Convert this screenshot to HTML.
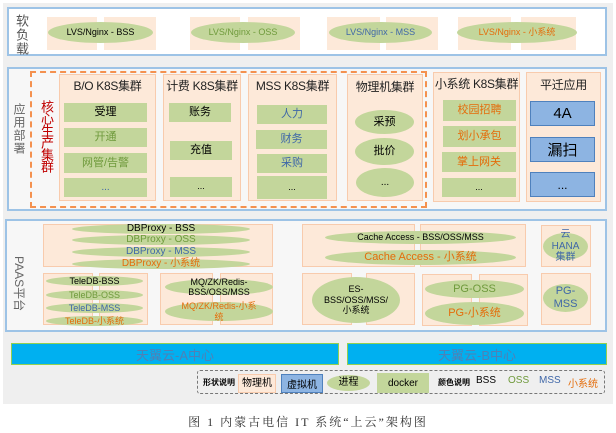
<!DOCTYPE html>
<html><head><meta charset="utf-8"><style>
*{margin:0;padding:0;box-sizing:border-box}
body{width:616px;height:433px;background:#fff;position:relative;overflow:hidden;font-family:"Liberation Sans","Noto Sans CJK SC",sans-serif}
div{position:absolute}
.pk{background:#fde9d9;border:1px solid #f8cbad}
.pkn{background:#fde9d9}
.g{background:#c3d69b;display:flex;align-items:center;justify-content:center;text-align:center;line-height:1.1}
.e{background:#c3d69b;border-radius:50%;display:flex;align-items:center;justify-content:center;text-align:center;line-height:1.15}
.b{background:#8db4e2;border:1px solid #4f81bd;display:flex;align-items:center;justify-content:center}
.k{color:#000}.o{color:#6f9a3c}.m{color:#3f67a8}.x{color:#e46c0a}
.h{font-size:12px;text-align:center;color:#222;white-space:nowrap;letter-spacing:-0.3px}
.v{writing-mode:vertical-rl;text-orientation:upright;letter-spacing:1px}
</style></head><body>
<div style="left:3px;top:3px;width:610px;height:401px;background:#efefef"></div>

<!-- top -->
<div style="left:7px;top:7px;width:600px;height:49px;background:#fff;border:2px solid #9dc3e6"></div>
<div class="v" style="left:12px;top:14px;font-size:13px;color:#555">软负载</div>
<div class="pkn" style="left:47px;top:17px;width:50px;height:33px"></div><div class="pkn" style="left:104px;top:17px;width:52px;height:33px"></div>
<div class="e k" style="left:48px;top:22px;width:105px;height:21px;font-size:9px">LVS/Nginx - BSS</div>
<div class="pkn" style="left:190px;top:17px;width:50px;height:33px"></div><div class="pkn" style="left:248px;top:17px;width:52px;height:33px"></div>
<div class="e o" style="left:191px;top:22px;width:104px;height:21px;font-size:9px">LVS/Nginx - OSS</div>
<div class="pkn" style="left:327px;top:17px;width:53px;height:33px"></div><div class="pkn" style="left:386px;top:17px;width:52px;height:33px"></div>
<div class="e m" style="left:329px;top:22px;width:103px;height:21px;font-size:9px">LVS/Nginx - MSS</div>
<div class="pkn" style="left:458px;top:17px;width:53px;height:33px"></div><div class="pkn" style="left:521px;top:17px;width:55px;height:33px"></div>
<div class="e x" style="left:457px;top:22px;width:120px;height:21px;font-size:9px">LVS/Nginx - 小系统</div>

<!-- app deploy -->
<div style="left:7px;top:67px;width:600px;height:144px;background:#f7f7f7;border:2px solid #9dc3e6"></div>
<div class="v" style="left:11px;top:103px;font-size:12px;color:#666">应用部署</div>
<div style="left:30px;top:71px;width:397px;height:137px;border:2px dashed #f4914f"></div>
<div class="v" style="left:37px;top:100px;font-size:13px;color:#c00000;letter-spacing:-1px">核心生产集群</div>

<div class="pk" style="left:59px;top:74px;width:97px;height:127px"></div>
<div class="h" style="left:59px;top:77px;width:97px">B/O K8S集群</div>
<div class="g k" style="left:64px;top:103px;width:83px;height:19px;font-size:11px">受理</div>
<div class="g o" style="left:64px;top:128px;width:83px;height:19px;font-size:11px">开通</div>
<div class="g o" style="left:64px;top:153px;width:83px;height:20px;font-size:11px">网管/告警</div>
<div class="g m" style="left:64px;top:178px;width:83px;height:19px;font-size:10px">...</div>

<div class="pk" style="left:163px;top:74px;width:78px;height:127px"></div>
<div class="h" style="left:163px;top:77px;width:78px">计费 K8S集群</div>
<div class="g k" style="left:169px;top:103px;width:62px;height:19px;font-size:11px">账务</div>
<div class="g k" style="left:170px;top:141px;width:62px;height:19px;font-size:11px">充值</div>
<div class="g k" style="left:170px;top:177px;width:62px;height:20px;font-size:9px">...</div>

<div class="pk" style="left:248px;top:74px;width:89px;height:127px"></div>
<div class="h" style="left:248px;top:77px;width:89px">MSS K8S集群</div>
<div class="g m" style="left:257px;top:105px;width:70px;height:19px;font-size:11px">人力</div>
<div class="g m" style="left:256px;top:130px;width:71px;height:19px;font-size:11px">财务</div>
<div class="g m" style="left:257px;top:154px;width:70px;height:19px;font-size:11px">采购</div>
<div class="g k" style="left:257px;top:176px;width:70px;height:23px;font-size:9px">...</div>

<div class="pk" style="left:347px;top:74px;width:76px;height:127px"></div>
<div class="h" style="left:347px;top:78px;width:76px">物理机集群</div>
<div class="e k" style="left:355px;top:110px;width:59px;height:24px;font-size:11px">采预</div>
<div class="e k" style="left:355px;top:138px;width:59px;height:27px;font-size:11px">批价</div>
<div class="e k" style="left:356px;top:168px;width:58px;height:29px;font-size:10px">...</div>

<div class="pk" style="left:433px;top:72px;width:87px;height:130px"></div>
<div class="h" style="left:433px;top:75px;width:87px">小系统 K8S集群</div>
<div class="g x" style="left:443px;top:100px;width:73px;height:21px;font-size:11px">校园招聘</div>
<div class="g x" style="left:443px;top:126px;width:73px;height:21px;font-size:11px">划小承包</div>
<div class="g x" style="left:442px;top:152px;width:74px;height:20px;font-size:11px">掌上网关</div>
<div class="g k" style="left:442px;top:178px;width:74px;height:19px;font-size:9px">...</div>

<div class="pk" style="left:526px;top:72px;width:75px;height:130px"></div>
<div class="h" style="left:526px;top:76px;width:75px">平迁应用</div>
<div class="b" style="left:530px;top:101px;width:65px;height:25px;font-size:15px">4A</div>
<div class="b" style="left:530px;top:137px;width:65px;height:25px;font-size:15px">漏扫</div>
<div class="b" style="left:530px;top:172px;width:65px;height:25px;font-size:12px">...</div>

<!-- PAAS -->
<div style="left:5px;top:219px;width:602px;height:113px;background:#f7f7f7;border:2px solid #9dc3e6"></div>
<div style="left:11px;top:256px;font-size:12px;color:#666;writing-mode:vertical-rl;text-orientation:sideways">PAAS平台</div>

<div class="pk" style="left:43px;top:224px;width:230px;height:43px"></div>
<div class="e k" style="left:72px;top:224px;width:178px;height:10px;font-size:10px">DBProxy - BSS</div>
<div class="e o" style="left:72px;top:235px;width:178px;height:10px;font-size:10px">DBProxy - OSS</div>
<div class="e m" style="left:72px;top:247px;width:178px;height:10px;font-size:10px">DBProxy - MSS</div>
<div class="e x" style="left:72px;top:259px;width:178px;height:10px;font-size:10px">DBProxy - 小系统</div>

<div class="pk" style="left:302px;top:224px;width:113px;height:43px"></div><div class="pk" style="left:420px;top:224px;width:106px;height:43px"></div>
<div class="e k" style="left:325px;top:231px;width:191px;height:13px;font-size:9px">Cache Access - BSS/OSS/MSS</div>
<div class="e x" style="left:325px;top:250px;width:191px;height:15px;font-size:11px">Cache Access - 小系统</div>

<div class="pk" style="left:541px;top:225px;width:50px;height:42px"></div>
<div class="e m" style="left:543px;top:233px;width:45px;height:27px;font-size:10px">云<br>HANA<br>集群</div>

<div class="pk" style="left:43px;top:273px;width:50px;height:52px"></div><div class="pk" style="left:99px;top:273px;width:49px;height:52px"></div>
<div class="e k" style="left:46px;top:276px;width:97px;height:10px;font-size:9px">TeleDB-BSS</div>
<div class="e o" style="left:46px;top:290px;width:97px;height:10px;font-size:9px">TeleDB-OSS</div>
<div class="e m" style="left:46px;top:303px;width:97px;height:10px;font-size:9px">TeleDB-MSS</div>
<div class="e x" style="left:46px;top:316px;width:97px;height:10px;font-size:9px">TeleDB-小系统</div>

<div class="pk" style="left:160px;top:273px;width:53px;height:52px"></div><div class="pk" style="left:220px;top:273px;width:53px;height:52px"></div>
<div class="e k" style="left:165px;top:279px;width:108px;height:16px;font-size:9px">MQ/ZK/Redis-<br>BSS/OSS/MSS</div>
<div class="e x" style="left:165px;top:302px;width:108px;height:19px;font-size:9px">MQ/ZK/Redis-小系<br>统</div>

<div class="pk" style="left:302px;top:273px;width:50px;height:52px"></div><div class="pk" style="left:366px;top:273px;width:49px;height:52px"></div>
<div class="e k" style="left:312px;top:277px;width:88px;height:46px;font-size:9px">ES-<br>BSS/OSS/MSS/<br>小系统</div>

<div class="pk" style="left:422px;top:274px;width:50px;height:52px"></div><div class="pk" style="left:479px;top:274px;width:49px;height:52px"></div>
<div class="e o" style="left:425px;top:280px;width:99px;height:18px;font-size:11px">PG-OSS</div>
<div class="e x" style="left:425px;top:302px;width:99px;height:23px;font-size:11px">PG-小系统</div>

<div class="pk" style="left:541px;top:273px;width:50px;height:52px"></div>
<div class="e m" style="left:543px;top:284px;width:45px;height:28px;font-size:11px">PG-<br>MSS</div>

<!-- clouds -->
<div style="left:11px;top:343px;width:328px;height:22px;background:#00b0f0;border:1px solid #92d050;color:#4e81b6;font-size:13px;display:flex;align-items:center;justify-content:center">天翼云-A中心</div>
<div style="left:347px;top:343px;width:260px;height:22px;background:#00b0f0;border:1px solid #92d050;color:#4e81b6;font-size:13px;display:flex;align-items:center;justify-content:center">天翼云-B中心</div>

<!-- legend -->
<div style="left:197px;top:370px;width:408px;height:24px;border:1px dashed #777;border-radius:3px"></div>
<div style="left:203px;top:377px;font-size:8px;font-weight:bold">形状说明</div>
<div class="pk" style="left:238px;top:374px;width:38px;height:19px;font-size:10px;text-align:center;line-height:17px">物理机</div>
<div class="b" style="left:281px;top:374px;width:42px;height:19px;font-size:10px">虚拟机</div>
<div class="e k" style="left:327px;top:375px;width:43px;height:16px;font-size:10px">进程</div>
<div class="g k" style="left:377px;top:373px;width:52px;height:20px;font-size:10px">docker</div>
<div style="left:438px;top:377px;font-size:8px;font-weight:bold">颜色说明</div>
<div class="k" style="left:476px;top:375px;font-size:10px">BSS</div>
<div class="o" style="left:508px;top:375px;font-size:10px">OSS</div>
<div class="m" style="left:539px;top:375px;font-size:10px">MSS</div>
<div class="x" style="left:568px;top:375px;font-size:10px">小系统</div>

<div style="left:0;top:413px;width:616px;text-align:center;font-family:'Liberation Serif','Noto Serif CJK SC',serif;font-size:12px;letter-spacing:2px;color:#333">图 1 内蒙古电信 IT 系统“上云”架构图</div>
</body></html>
